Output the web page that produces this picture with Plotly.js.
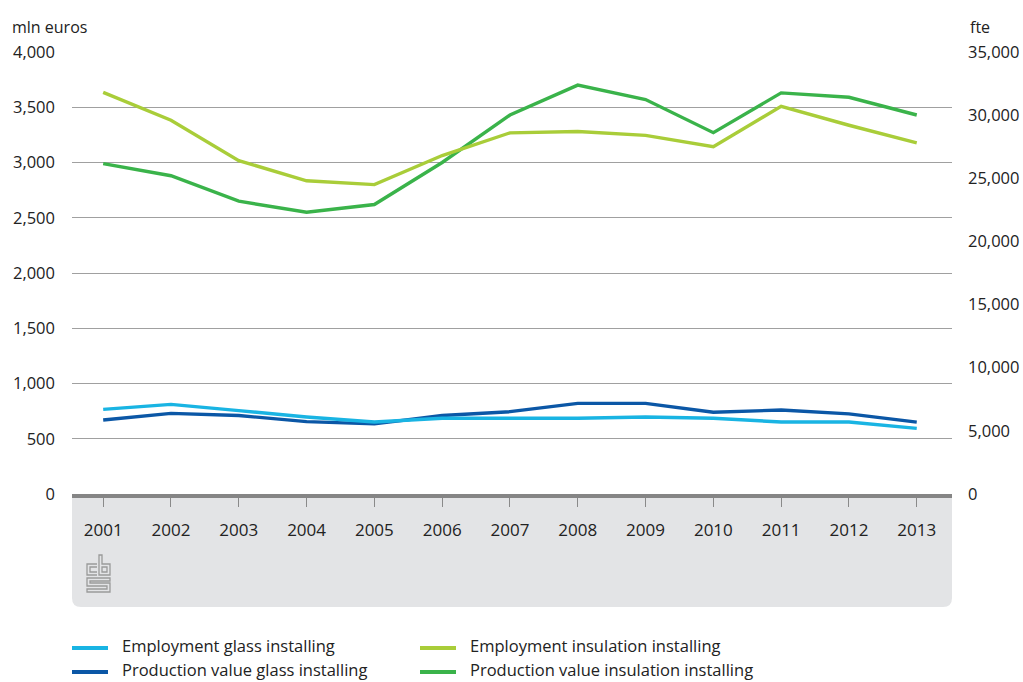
<!DOCTYPE html>
<html>
<head>
<meta charset="utf-8">
<script src="https://cdn.plot.ly/plotly-3.0.1.min.js"></script>
<style>html,body{margin:0;padding:0;background:#fff;}#chart{width:1023px;height:682px;}</style>
</head>
<body>
<div id="chart"></div>
<script>
const years = [2001,2002,2003,2004,2005,2006,2007,2008,2009,2010,2011,2012,2013];
const employmentGlass = [6700,7100,6600,6100,5700,6000,6000,6000,6100,6000,5700,5700,5200];
const employmentInsulation = [31800,29600,26400,24800,24500,26800,28600,28700,28400,27500,30700,29200,27800];
const productionGlass = [670,730,710,655,635,710,745,820,820,740,760,725,650];
const productionInsulation = [2990,2880,2650,2550,2620,3000,3430,3700,3570,3270,3630,3590,3430];
const leftTicks = [0,500,1000,1500,2000,2500,3000,3500,4000];
const rightTicks = [0,5000,10000,15000,20000,25000,30000,35000];
const seriesNames = ["Employment glass installing","Employment insulation installing","Production value glass installing","Production value insulation installing"];
const colors = ["#19b4e3","#a9cd39","#0b57a6","#3ab34a"];

const L=72, R=952, T=52, B=494;
const xp = px => (px-L)/(R-L);
const yp = py => (B-py)/(B-T);
const fmt = v => v.toLocaleString('en-US');
const FONT = "Open Sans, Noto Sans, sans-serif";

const traces = [
  {x:years, y:employmentGlass, yaxis:'y2', name:seriesNames[0], line:{color:colors[0]}},
  {x:years, y:employmentInsulation, yaxis:'y2', name:seriesNames[1], line:{color:colors[1]}},
  {x:years, y:productionGlass, yaxis:'y', name:seriesNames[2], line:{color:colors[2]}},
  {x:years, y:productionInsulation, yaxis:'y', name:seriesNames[3], line:{color:colors[3]}}
].map(t => Object.assign(t, {type:'scatter', mode:'lines', line:Object.assign(t.line,{width:3.4}), showlegend:false, hoverinfo:'skip'}));

// background panel under x axis (rounded bottom corners)
const r = 9;
const panelBottom = 607;
function P(px,py){return xp(px).toFixed(5)+','+yp(py).toFixed(5);}
const panelPath = 'M'+P(L,B)+' L'+P(R,B)+' L'+P(R,panelBottom-r)+' Q'+P(R,panelBottom)+' '+P(R-r,panelBottom)+
  ' L'+P(L+r,panelBottom)+' Q'+P(L,panelBottom)+' '+P(L,panelBottom-r)+' Z';

const shapes = [
  {type:'path', xref:'paper', yref:'paper', path:panelPath, fillcolor:'#e3e4e6', line:{width:0}, layer:'below'}
];
// cbs logo (decorative outline)
const logoPaths = [
  'M'+P(97,564)+' L'+P(87,564)+' L'+P(87,575)+' L'+P(97,575),
  'M'+P(97,567)+' L'+P(90,567)+' L'+P(90,572)+' L'+P(97,572),
  'M'+P(99,555)+' L'+P(99,575)+' L'+P(110,575)+' L'+P(110,564)+' L'+P(102,564)+' L'+P(102,555)+' Z',
  'M'+P(102,567)+' L'+P(107,567)+' L'+P(107,572)+' L'+P(102,572)+' Z',
  'M'+P(110,578)+' L'+P(87,578)+' L'+P(87,586)+' L'+P(107,586)+' L'+P(107,589)+' L'+P(87,589)+' L'+P(87,592)+' L'+P(110,592)+' L'+P(110,583)+' L'+P(90,583)+' L'+P(90,581)+' L'+P(110,581)+' Z'
];
logoPaths.forEach(p => shapes.push({type:'path', xref:'paper', yref:'paper', path:p, line:{color:'#9a9a9a', width:1.3}}));

// legend drawn manually
const annotations = [
  {text:'mln euros', xref:'paper', yref:'paper', x:xp(10), y:yp(27), xanchor:'left', yanchor:'middle', showarrow:false, font:{family:FONT, size:16, color:'#222'}},
  {text:'fte', xref:'paper', yref:'paper', x:xp(968), y:yp(27), xanchor:'left', yanchor:'middle', showarrow:false, font:{family:FONT, size:16, color:'#222'}}
];
const legendPos = [[72,645],[420,645],[72,669],[420,669]];
seriesNames.forEach((n,i) => {
  const [lx,ly] = legendPos[i];
  shapes.push({type:'line', xref:'paper', yref:'paper', x0:xp(lx), x1:xp(lx+36), y0:yp(ly+3), y1:yp(ly+3), line:{color:colors[i], width:4}});
  annotations.push({text:n, xref:'paper', yref:'paper', x:xp(lx+48), y:yp(ly), xanchor:'left', yanchor:'middle', showarrow:false, font:{family:FONT, size:16.5, color:'#222'}});
});

const layout = {
  width:1023, height:682,
  margin:{l:L, r:1023-R, t:T, b:682-B, pad:0},
  paper_bgcolor:'#fff', plot_bgcolor:'rgba(0,0,0,0)',
  showlegend:false,
  font:{family:FONT, size:16, color:'#222'},
  xaxis:{range:[2000.54,2013.52], tickvals:years, ticktext:years.map(String), ticks:'outside', ticklen:9, tickwidth:1, tickcolor:'#8a8a8a',
         showline:true, linecolor:'#858585', linewidth:4, showgrid:false, zeroline:false, ticklabelstandoff:9, fixedrange:true,
         tickfont:{family:FONT, size:17, color:'#222'}},
  yaxis:{range:[0,4000], tickvals:leftTicks, ticktext:leftTicks.map(fmt), showgrid:true, gridcolor:'#a0a0a0', gridwidth:1, zeroline:false,
         ticks:'', ticklabelstandoff:16, showline:false, tickfont:{family:FONT, size:16.5, color:'#222'}},
  yaxis2:{range:[0,35000], tickvals:rightTicks, ticktext:rightTicks.map(fmt), overlaying:'y', side:'right', showgrid:false, zeroline:false,
          ticks:'', ticklabelstandoff:15, showline:false, tickfont:{family:FONT, size:16.5, color:'#222'}},
  shapes:shapes,
  annotations:annotations
};
Plotly.newPlot('chart', traces, layout, {staticPlot:true, displayModeBar:false});
</script>
</body>
</html>
